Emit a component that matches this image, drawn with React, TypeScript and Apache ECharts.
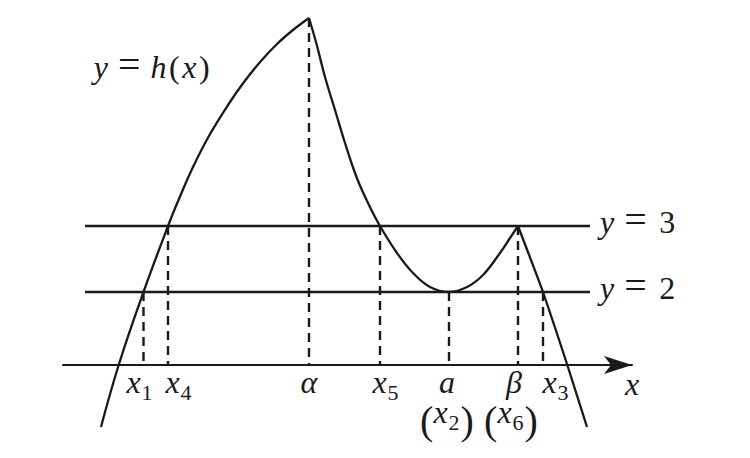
import { useEffect, useRef } from 'react';
import * as echarts from 'echarts';

// the sketch is not to scale: units are screen-sized steps, axis at y = 0
const markX = [143.5, 168, 309, 380, 449, 518, 543]; // x1, x4, alpha, x5, a, beta, x3
const markTop = [73, 139, 347, 139, 73, 139, 73];

const riseX = [101, 119, 143.5, 168, 178.5, 193, 209.5, 228, 244, 261, 277, 293, 309];
const riseY = [-62, 1, 73, 139, 165, 198, 230, 260, 283, 304, 321, 335, 347];
const dipX = [309, 316.5, 325, 335, 345, 356.5, 368, 380, 397, 413, 430, 449, 467, 483, 500, 510, 518];
const dipY = [347, 321, 288, 255, 222, 188, 162, 139, 112, 92, 78, 73, 78, 90, 112, 127, 139];
const fallX = [518, 543, 567, 587];
const fallY = [139, 73, 1, -62];

// horizontal lines y = 3 and y = 2
const levelY = [139, 73];
const levelText = ['3', '2'];
const levelFrom = 85;
const levelTo = 590;

// labels: pieces are [kind, text]
type Piece = [string, string];
const tickLabels: Piece[][] = [
    [['i', 'x'], ['s', '1']],
    [['i', 'x'], ['s', '4']],
    [['i', 'α']],
    [['i', 'x'], ['s', '5']],
    [['i', 'a']],
    [['i', 'β']],
    [['i', 'x'], ['s', '3']]
];
const tickLabelX = [140, 179, 309, 386, 447, 514, 556];
const extraLabels: Piece[][] = [
    [['p', '('], ['i', 'x'], ['s', '2'], ['p', ')']],
    [['p', '('], ['i', 'x'], ['s', '6'], ['p', ')']]
];
const extraLabelX = [447, 511];
const curveName: Piece[] = [['i', 'y'], ['e', '='], ['i', 'h'], ['n', '('], ['i', 'x'], ['n', ')']];

const ink = '#1a1a1a';
const mathFont = 'Liberation Serif';

// size, italic, baseline drop, side gap
const kinds: Record<string, { size: number; italic: boolean; drop: number; gap: number }> = {
    i: { size: 32, italic: true, drop: 0, gap: 0 },
    n: { size: 32, italic: false, drop: 0, gap: 2.5 },
    e: { size: 40, italic: false, drop: 0, gap: 10 },
    s: { size: 22, italic: false, drop: 7, gap: 1 },
    p: { size: 40, italic: false, drop: 11, gap: 0 }
};

const App = () => {
    const chartRef = useRef<HTMLDivElement>(null);

    useEffect(() => {
        if (!chartRef.current) return;
        const chart = echarts.init(chartRef.current, null, { renderer: 'svg' });

        const curve = (xs: number[], ys: number[], smooth = 0.4) => ({
            type: 'line',
            data: xs.map((x, i) => [x, ys[i]]),
            smooth,
            symbol: 'none',
            lineStyle: { color: ink, width: 2.3 },
            z: 3
        });

        const dashed = markX.map((x, i) => ({
            type: 'line',
            data: [[x, markTop[i]], [x, 0]],
            symbol: 'none',
            lineStyle: { color: ink, width: 2.4, type: [9, 6] },
            z: 2
        }));

        const levels = levelY.map((y) => ({
            type: 'line',
            data: [[levelFrom, y], [levelTo, y]],
            symbol: 'none',
            lineStyle: { color: ink, width: 2.3 },
            z: 2
        }));

        chart.setOption({
            animation: false,
            textStyle: { fontFamily: mathFont },
            grid: { left: 63, right: 118, top: 0, bottom: 0 },
            xAxis: {
                type: 'value',
                min: 63,
                max: 632,
                axisLine: {
                    onZero: true,
                    symbol: ['none', 'arrow'],
                    symbolSize: [13.5, 28],
                    lineStyle: { color: ink, width: 2 }
                },
                axisTick: { show: false },
                axisLabel: { show: false },
                splitLine: { show: false }
            },
            yAxis: {
                type: 'value',
                min: -93,
                max: 365,
                axisLine: { show: false },
                axisTick: { show: false },
                axisLabel: { show: false },
                splitLine: { show: false }
            },
            series: [
                curve(riseX, riseY),
                curve(dipX, dipY),
                curve(fallX, fallY, 0.15),
                ...dashed,
                ...levels
            ]
        });

        // math labels laid out piece by piece (italic letters, lowered subscripts)
        const ctx = document.createElement('canvas').getContext('2d')!;
        const fontOf = (k: string) => `${kinds[k].italic ? 'italic ' : ''}${kinds[k].size}px "${mathFont}"`;
        const texts: any[] = [];
        const place = (pieces: Piece[], at: number[], align: 'center' | 'left' = 'center') => {
            const [px, py] = chart.convertToPixel({ gridIndex: 0 }, at) as number[];
            const widths = pieces.map(([k, t]) => {
                ctx.font = fontOf(k);
                return ctx.measureText(t).width + 2 * kinds[k].gap;
            });
            const total = widths.reduce((a, b) => a + b, 0);
            let x = align === 'left' ? px : px - total / 2;
            pieces.forEach(([k, t], i) => {
                const kind = kinds[k];
                texts.push({
                    type: 'text',
                    x: x + kind.gap,
                    y: py + kind.drop - 0.3375 * kind.size,
                    silent: true,
                    z: 10,
                    style: {
                        text: t,
                        fontFamily: mathFont,
                        fontSize: kind.size,
                        fontStyle: kind.italic ? 'italic' : 'normal',
                        fill: ink,
                        align: 'left',
                        verticalAlign: 'middle'
                    }
                });
                x += widths[i];
            });
        };

        tickLabels.forEach((p, i) => place(p, [tickLabelX[i], -28]));
        extraLabels.forEach((p, i) => place(p, [extraLabelX[i], -58]));
        place([['i', 'x']], [632, -30]);
        place(curveName, [153, 287]);
        levelY.forEach((y, i) => place([['i', 'y'], ['e', '='], ['n', levelText[i]]], [600, y - 6.5], 'left'));

        chart.setOption({ graphic: texts });

        return () => chart.dispose();
    }, []);

    return (
        <div
            ref={chartRef}
            style={{ position: 'fixed', left: 0, top: 0, width: 750, height: 458, background: '#fff' }}
        />
    );
};

export default App;
